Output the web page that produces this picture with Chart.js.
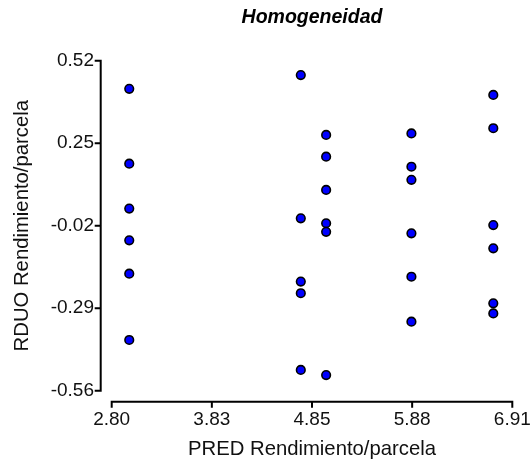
<!DOCTYPE html>
<html>
<head>
<meta charset="utf-8">
<script src="https://cdn.jsdelivr.net/npm/chart.js@4/dist/chart.umd.min.js"></script>
<style>
  html, body { margin: 0; padding: 0; background: #fff; }
  #wrap { width: 531px; height: 468px; }
</style>
</head>
<body>
<div id="wrap"><canvas id="chart" width="531" height="468"></canvas></div>
<script>
// Predicted yield per plot (x) and residuals (y), one array per predicted level
const predLevels = [2.98, 4.74, 5.00, 5.875, 6.715];
const rduoLevel1 = [0.428, 0.183, 0.036, -0.068, -0.177, -0.394];
const rduoLevel2 = [0.473, 0.004, -0.203, -0.241, -0.492];
const rduoLevel3 = [0.277, 0.206, 0.097, -0.012, -0.040, -0.509];
const rduoLevel4 = [0.282, 0.173, 0.130, -0.045, -0.187, -0.334];
const rduoLevel5 = [0.408, 0.299, -0.018, -0.094, -0.274, -0.307];
const rduoByLevel = [rduoLevel1, rduoLevel2, rduoLevel3, rduoLevel4, rduoLevel5];

// Axis ticks
const xTickValues = [2.80, 3.8275, 4.855, 5.8825, 6.91];
const xTickLabels = ['2.80', '3.83', '4.85', '5.88', '6.91'];
const yTickValues = [0.52, 0.25, -0.02, -0.29, -0.56];
const yTickLabels = ['0.52', '0.25', '-0.02', '-0.29', '-0.56'];

const FONT = "'Liberation Sans', Arial, Helvetica, sans-serif";

const points = [];
predLevels.forEach((x, i) => rduoByLevel[i].forEach(y => points.push({ x, y })));

// Detached axis lines with outward tick marks
const detachedAxes = {
  id: 'detachedAxes',
  afterDraw(chart) {
    const { ctx, chartArea, scales: { x, y } } = chart;
    const gap = 11, tick = 6;
    ctx.save();
    ctx.strokeStyle = '#000';
    ctx.lineWidth = 2;
    ctx.lineCap = 'butt';
    // vertical axis
    const ax = chartArea.left - gap;
    const yTop = y.getPixelForValue(yTickValues[0]);
    const yBot = y.getPixelForValue(yTickValues[yTickValues.length - 1]);
    ctx.beginPath();
    ctx.moveTo(ax, yTop - 1);
    ctx.lineTo(ax, yBot + 1);
    yTickValues.forEach(v => {
      const py = y.getPixelForValue(v);
      ctx.moveTo(ax, py);
      ctx.lineTo(ax - tick, py);
    });
    ctx.stroke();
    // horizontal axis
    const ay = chartArea.bottom + gap;
    const xL = x.getPixelForValue(xTickValues[0]);
    const xR = x.getPixelForValue(xTickValues[xTickValues.length - 1]);
    ctx.beginPath();
    ctx.moveTo(xL - 1, ay);
    ctx.lineTo(xR + 1, ay);
    xTickValues.forEach(v => {
      const px = x.getPixelForValue(v);
      ctx.moveTo(px, ay);
      ctx.lineTo(px, ay + tick);
    });
    ctx.stroke();
    ctx.restore();
  }
};

new Chart(document.getElementById('chart'), {
  type: 'scatter',
  data: {
    datasets: [{
      label: 'RDUO',
      data: points,
      backgroundColor: '#0000ff',
      borderColor: '#000',
      borderWidth: 1.6,
      pointRadius: 4.3,
      pointHoverRadius: 4.3
    }]
  },
  options: {
    responsive: false,
    animation: false,
    events: [],
    layout: { padding: { left: 0, right: 18.7, top: 0, bottom: 0 } },
    plugins: {
      legend: { display: false },
      tooltip: { enabled: false },
      title: {
        display: true,
        text: 'Homogeneidad',
        fullSize: false,
        color: '#000',
        font: { family: FONT, size: 19.5, weight: 'bold', style: 'italic', lineHeight: 1.2 },
        padding: { top: 6.3, bottom: 31 }
      }
    },
    scales: {
      x: {
        type: 'linear',
        min: xTickValues[0],
        max: xTickValues[xTickValues.length - 1],
        afterBuildTicks: s => { s.ticks = xTickValues.map(v => ({ value: v })); },
        afterFit: s => { s.height = 77.3; s.paddingLeft = 0; s.paddingRight = 0; },
        grid: { display: false, drawTicks: false },
        border: { display: false },
        ticks: {
          padding: 18,
          color: '#111',
          font: { family: FONT, size: 19 },
          maxRotation: 0,
          autoSkip: false,
          callback: (v, i) => xTickLabels[i]
        },
        title: {
          display: true,
          text: 'PRED Rendimiento/parcela',
          color: '#111',
          font: { family: FONT, size: 20.3 },
          padding: { top: 0, bottom: 6 }
        }
      },
      y: {
        type: 'linear',
        min: yTickValues[yTickValues.length - 1],
        max: yTickValues[0],
        afterBuildTicks: s => { s.ticks = yTickValues.slice().reverse().map(v => ({ value: v })); },
        afterFit: s => { s.width = 111.7; s.paddingTop = 0; s.paddingBottom = 0; },
        grid: { display: false, drawTicks: false },
        border: { display: false },
        ticks: {
          padding: 17.7,
          color: '#111',
          font: { family: FONT, size: 19 },
          autoSkip: false,
          callback: v => yTickLabels[yTickValues.findIndex(t => Math.abs(t - v) < 1e-9)]
        },
        title: {
          display: true,
          text: 'RDUO Rendimiento/parcela',
          color: '#111',
          font: { family: FONT, size: 20.3 },
          padding: { top: 10, bottom: 0 }
        }
      }
    }
  },
  plugins: [detachedAxes]
});
</script>
</body>
</html>
